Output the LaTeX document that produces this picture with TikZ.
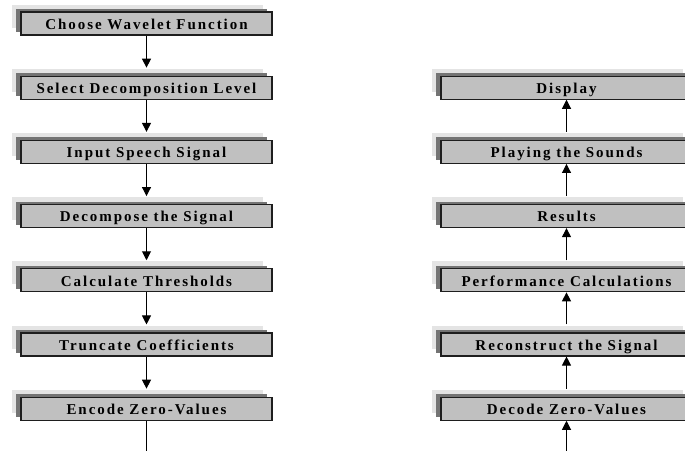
\documentclass[tikz,border=0pt]{standalone}
\usepackage{fontspec}
\setmainfont{Liberation Serif}
\newfontfamily\boxfont[LetterSpace=13]{Liberation Serif}
\usetikzlibrary{arrows.meta,shadows}
\definecolor{boxfill}{HTML}{C0C0C0}
\definecolor{shadowdark}{HTML}{747474}
\definecolor{shadowlight}{HTML}{E4E4E4}
\definecolor{edge}{HTML}{1E1E1E}
\tikzset{
  x=1pt, y=-1pt,
  stepbox/.style={
    general shadow={fill=shadowlight, draw=none, shadow xshift=-9.5pt, shadow yshift=7.5pt},
    general shadow={fill=shadowdark, draw=none, shadow xshift=-5.5pt, shadow yshift=3pt},
    draw=edge, fill=boxfill, line width=1.1pt,
    minimum width=251pt, minimum height=23pt, inner sep=0pt,
    text height=14pt, text depth=2.5pt,
    font=\boxfont\bfseries\fontsize{15}{17}\selectfont},
  flow/.style={draw=black, line width=1pt, -{Triangle[width=9pt,length=9pt]}},
  plain/.style={draw=black, line width=1pt}
}
\begin{document}
\begin{tikzpicture}
\useasboundingbox (0,0) rectangle (685,450);
\clip (0,0) rectangle (685,450);
% left column
\node[stepbox] (l1) at (146.5,23.5) {Choose Wavelet Function};
\node[stepbox] (l2) at (146.5,87.7) {Select Decomposition Level};
\node[stepbox] (l3) at (146.5,151.9) {Input Speech Signal};
\node[stepbox] (l4) at (146.5,216.1) {Decompose the Signal};
\node[stepbox] (l5) at (146.5,280.3) {Calculate Thresholds};
\node[stepbox] (l6) at (146.5,344.5) {Truncate Coefficients};
\node[stepbox] (l7) at (146.5,408.7) {Encode Zero-Values};
\coordinate (lend) at (146.5,452);
% right column
\node[stepbox] (r1) at (566.5,87.7) {Display};
\node[stepbox] (r2) at (566.5,151.9) {Playing the Sounds};
\node[stepbox] (r3) at (566.5,216.1) {Results};
\node[stepbox] (r4) at (566.5,280.3) {Performance Calculations};
\node[stepbox] (r5) at (566.5,344.5) {Reconstruct the Signal};
\node[stepbox] (r6) at (566.5,408.7) {Decode Zero-Values};
\coordinate (rstart) at (566.5,452);
% connectors left
\foreach \a/\b in {l1/l2,l2/l3,l3/l4,l4/l5,l5/l6,l6/l7}
  \draw[flow] (\a.south) -- ([yshift=8pt]\b.north);
\draw[plain] (l7.south) -- (lend);
% connectors right
\foreach \a/\b in {r2/r1,r3/r2,r4/r3,r5/r4,r6/r5}
  \draw[flow] ([yshift=8pt]\a.north) -- (\b.south);
\draw[flow] (rstart) -- (r6.south);
\end{tikzpicture}
\end{document}
